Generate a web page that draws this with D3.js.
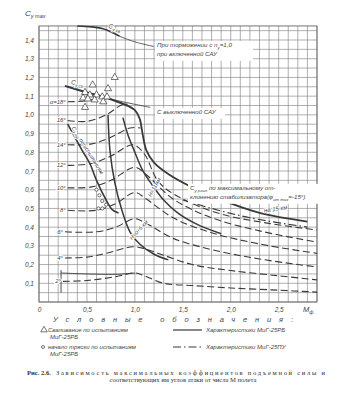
<!DOCTYPE html>
<html><head><meta charset="utf-8">
<script src="https://cdn.jsdelivr.net/npm/d3@7"></script>
<style>
html,body{margin:0;padding:0;background:#fff;}
svg{display:block;}
text{font-family:"Liberation Sans","DejaVu Sans",sans-serif;fill:#444;}
text.serif{font-family:"Liberation Serif","DejaVu Serif",serif;fill:#333;}
</style></head>
<body><svg id="c" width="359" height="400"></svg>
<script>
// ---------- data (M, Cy) ----------
const yTicks = [0.1,0.2,0.3,0.4,0.5,0.6,0.7,0.8,0.9,1.0,1.1,1.2,1.3,1.4];
const xTicks = [0,0.5,1.0,1.5,2.0,2.5];
const alphaNames = ["2°","4°","6°","8°","10°","12°","14°","16°","α=18°"];
const alpha2  = [[0.25,0.11],[0.5,0.115],[0.8,0.135],[1.0,0.155],[1.1,0.14],[1.3,0.10],[1.6,0.088],[2.0,0.075],[2.5,0.063],[2.9,0.053]];
const alpha4  = [[0.27,0.235],[0.5,0.24],[0.7,0.26],[0.98,0.295],[1.1,0.285],[1.3,0.25],[1.6,0.2],[2.0,0.168],[2.5,0.14],[2.9,0.118]];
const alpha6  = [[0.27,0.375],[0.6,0.375],[0.8,0.4],[1.0,0.445],[1.12,0.42],[1.4,0.34],[1.8,0.28],[2.3,0.23],[2.9,0.187]];
const alpha8  = [[0.3,0.49],[0.6,0.49],[0.8,0.525],[1.0,0.585],[1.12,0.55],[1.4,0.45],[1.8,0.37],[2.3,0.31],[2.9,0.26]];
const alpha10 = [[0.3,0.61],[0.55,0.615],[0.75,0.65],[1.0,0.72],[1.12,0.68],[1.4,0.55],[1.8,0.45],[2.3,0.38],[2.9,0.32]];
const alpha12 = [[0.3,0.73],[0.55,0.74],[0.75,0.78],[0.98,0.84],[1.1,0.79],[1.25,0.64],[1.5,0.55],[1.9,0.47],[2.4,0.42],[2.9,0.385]];
const alpha14 = [[0.3,0.84],[0.55,0.845],[0.75,0.88],[0.95,0.93],[1.06,0.93]];
const alpha16 = [[0.3,0.97],[0.5,0.965],[0.7,1.0],[0.85,1.05],[0.92,1.06]];
const alpha18 = [[0.3,1.07],[0.5,1.075],[0.62,1.09]];
const alpha2Solid = [[0.23,0.155],[0.5,0.15],[0.8,0.148],[1.0,0.155]];
const minSpeedLine = [[0.23,0.05],[0.23,0.17]];
const cySvOn      = [[0.4,1.475],[0.55,1.47],[0.67,1.46],[0.84,1.42]];
const cySvOnThin  = [[0.84,1.42],[1.0,1.39],[1.2,1.365]];
const cySvOff     = [[0.27,1.155],[0.5,1.12],[0.71,1.09],[0.92,1.05]];
const cySvOffThin = [[0.29,1.15],[0.7,1.09],[1.16,1.04]];
const limit15     = [[0.9,1.055],[1.0,1.025],[1.05,0.98],[1.08,0.9],[1.12,0.81],[1.2,0.745],[1.36,0.68],[1.57,0.62],[1.85,0.556],[2.3,0.476],[2.8,0.43]];
const limit15PU   = [[1.5,0.545],[1.8,0.5],[2.2,0.45],[2.8,0.40]];
const limit11     = [[0.875,0.985],[0.93,0.89],[1.0,0.80],[1.08,0.705],[1.18,0.626],[1.3,0.545],[1.45,0.475],[1.65,0.415],[1.9,0.365]];
const limit05     = [[0.72,1.0],[0.74,0.81],[0.79,0.64],[0.865,0.49],[0.95,0.374],[1.05,0.31],[1.2,0.255],[1.35,0.225]];
const buffetLine  = [[0.30,0.95],[0.45,0.81],[0.53,0.74],[0.60,0.65],[0.70,0.545],[0.76,0.495],[0.83,0.475]];
const stallTests  = [[0.79,1.2],[0.56,1.16],[0.72,1.14],[0.48,1.12],[0.53,1.107],[0.6,1.107],[0.66,1.096],[0.71,1.096],[0.46,1.09],[0.51,1.085],[0.58,1.08],[0.67,1.07],[0.48,1.04]];
const buffetTests = [[0.6,0.6],[0.63,0.57],[0.66,0.54],[0.62,0.5],[0.66,0.5],[0.7,0.52]];

// ---------- layout ----------
const svg = d3.select("#c");
const x = d3.scaleLinear().domain([0,2.9]).range([39,317]);
const y = d3.scaleLinear().domain([0,1.4]).range([302,40]);
const yTop = 1.475;
const ink = "#3a3a3a";

// grid
const gGrid = svg.append("g");
gGrid.selectAll("line.v").data(d3.range(0,30).map(i=>i/10)).join("line")
  .attr("x1",d=>x(d)).attr("x2",d=>x(d)).attr("y1",y(0)).attr("y2",y(yTop))
  .attr("stroke","#8c8c8c").attr("stroke-width",0.7);
gGrid.selectAll("line.h").data(d3.range(0,30).map(i=>i*0.05)).join("line")
  .attr("x1",x(0)).attr("x2",x(2.9)).attr("y1",d=>y(d)).attr("y2",d=>y(d))
  .attr("stroke","#8c8c8c").attr("stroke-width",0.7);
svg.append("rect").attr("x",x(0)).attr("y",y(yTop)).attr("width",x(2.9)-x(0)).attr("height",y(0)-y(yTop))
  .attr("fill","none").attr("stroke","#666").attr("stroke-width",0.9);

// axes labels
const fmt = d => d===0 ? "0" : d3.format(".1f")(d).replace(".",",");
const ax = d3.axisLeft(y).tickValues(yTicks).tickSize(0).tickPadding(5).tickFormat(fmt);
const gy = svg.append("g").attr("transform",`translate(${x(0)},0)`).call(ax);
gy.select(".domain").remove();
gy.selectAll("text").attr("font-size",6.5).attr("font-style","italic").attr("fill","#555");
const bx = d3.axisBottom(x).tickValues(xTicks).tickSize(0).tickPadding(5).tickFormat(fmt);
const gx = svg.append("g").attr("transform",`translate(0,${y(0)})`).call(bx);
gx.select(".domain").remove();
gx.selectAll("text").attr("font-size",6.5).attr("font-style","italic").attr("fill","#555");

// axis titles
const t1 = svg.append("text").attr("x",25).attr("y",16).attr("font-size",8).attr("font-style","italic");
t1.append("tspan").text("C");
t1.append("tspan").attr("dy",2).attr("font-size",5.5).text("y max");
const t2 = svg.append("text").attr("x",303).attr("y",312).attr("font-size",7.5).attr("font-style","italic");
t2.append("tspan").text("M");
t2.append("tspan").attr("dy",1.5).attr("font-size",5).text("ф");

// ---------- curves ----------
const line = d3.line().x(d=>x(d[0])).y(d=>y(d[1])).curve(d3.curveCatmullRom.alpha(0.5));
function draw(data, w, dash, col){
  svg.append("path").datum(data).attr("d",line).attr("fill","none")
    .attr("stroke",col||ink).attr("stroke-width",w).attr("stroke-dasharray",dash||null)
    .attr("stroke-linecap","butt");
}
const alphas = [alpha2,alpha4,alpha6,alpha8,alpha10,alpha12,alpha14,alpha16,alpha18];
alphas.forEach(a=>draw(a,1.1,"7,3.5"));
draw(alpha2Solid,0.9);
draw(minSpeedLine,0.9);
draw(cySvOn,1.6);
draw(cySvOnThin,0.8);
draw(cySvOff,2.0);
draw(cySvOffThin,0.8);
draw(limit15,1.8);
draw(limit15PU,1.2,"8,3,1.5,3");
draw(limit11,1.5);
draw(limit05,1.5);
draw(buffetLine,1.6);

// test points
svg.selectAll("path.tri").data(stallTests).join("path")
  .attr("d",d3.symbol(d3.symbolTriangle,22)).attr("transform",d=>`translate(${x(d[0])},${y(d[1])})`)
  .attr("fill","#fff").attr("stroke",ink).attr("stroke-width",0.7);
svg.selectAll("circle.bt").data(buffetTests).join("circle")
  .attr("cx",d=>x(d[0])).attr("cy",d=>y(d[1])).attr("r",1.6)
  .attr("fill","#fff").attr("stroke",ink).attr("stroke-width",0.7);

// alpha labels at curve starts
const lbl = svg.append("g").attr("font-size",6).attr("font-style","italic");
alphas.forEach((a,i)=>{
  lbl.append("text").attr("x",x(a[0][0])-2).attr("y",y(a[0][1])+2)
    .attr("text-anchor","end").attr("paint-order","stroke").attr("stroke","#fff").attr("stroke-width",2)
    .text(alphaNames[i]);
});

// annotation text with white boxes
function boxText(lines, x0, y0, lh, fs, w){
  svg.append("rect").attr("x",x0-2).attr("y",y0-fs).attr("width",w).attr("height",lh*lines.length+2).attr("fill","#fff");
  lines.forEach((s,i)=>{
    const t = svg.append("text").attr("x",x0).attr("y",y0+i*lh).attr("font-size",fs).attr("font-style","italic");
    s.forEach(p=>{ const ts=t.append("tspan").text(p.t); if(p.sub) ts.attr("font-size",fs*0.7).attr("dy",1.5); if(p.up) ts.attr("dy",-1.5); });
  });
}
boxText([[{t:"При торможении с n"},{t:"y",sub:1},{t:"=1,0",up:1}],[{t:"при включенной САУ"}]], 157, 47, 9, 6.2, 98);
boxText([[{t:"С выключенной САУ"}]], 157, 114, 9, 6.2, 70);
boxText([[{t:"C"},{t:"y расп",sub:1},{t:" по максимальному от-",up:1}],[{t:"клонению стабилизатора(φ"},{t:"ст max",sub:1},{t:"=-15°)",up:1}]], 190, 190, 9, 6.2, 130);

function rotText(mx, cy, ang, fs){
  return svg.append("text").attr("transform",`translate(${x(mx)},${y(cy)}) rotate(${ang})`)
    .attr("font-size",fs).attr("font-style","italic").attr("paint-order","stroke").attr("stroke","#fff").attr("stroke-width",1.5);
}
let r;
r = rotText(0.72,1.465,17,6.5); r.append("tspan").text("C"); r.append("tspan").attr("font-size",4.5).attr("dy",1.5).text("y св");
r = rotText(0.33,1.165,12,6.5); r.append("tspan").text("C"); r.append("tspan").attr("font-size",4.5).attr("dy",1.5).text("y св");
r = rotText(0.34,0.93,58,5.5); r.append("tspan").text("C"); r.append("tspan").attr("font-size",4).attr("dy",1.5).text("y тр"); r.append("tspan").attr("dy",-1.5).text(" по испытаниям");
rotText(1.17,0.56,-62,5.5).text("H=11 км");
rotText(0.97,0.33,-48,5.5).text("H=0÷5 км");
rotText(2.35,0.478,-8,6).text("на 15 км");

// legend
const lg = svg.append("g").attr("font-style","italic").attr("font-size",6);
lg.append("text").attr("x",53).attr("y",322).attr("font-size",7.5).attr("textLength",240).attr("lengthAdjust","spacing").text("Условные обозначения:");
lg.append("path").attr("d",d3.symbol(d3.symbolTriangle,18)).attr("transform","translate(44,330)").attr("fill","#fff").attr("stroke",ink).attr("stroke-width",0.7);
lg.append("text").attr("x",48).attr("y",332).text("Сваливание по испытаниям");
lg.append("text").attr("x",50).attr("y",339).text("МиГ-25РБ");
lg.append("circle").attr("cx",43).attr("cy",347).attr("r",1.5).attr("fill","#fff").attr("stroke",ink).attr("stroke-width",0.7);
lg.append("text").attr("x",48).attr("y",349).text("начало тряски по испытаниям");
lg.append("text").attr("x",50).attr("y",356).text("МиГ-25РБ");
lg.append("line").attr("x1",173).attr("x2",202).attr("y1",330).attr("y2",330).attr("stroke",ink).attr("stroke-width",1.2);
lg.append("text").attr("x",206).attr("y",332).text("Характеристики МиГ-25РБ");
lg.append("line").attr("x1",173).attr("x2",202).attr("y1",347).attr("y2",347).attr("stroke",ink).attr("stroke-width",1.2).attr("stroke-dasharray","8,3,1.5,3");
lg.append("text").attr("x",206).attr("y",349).text("Характеристики МиГ-25ПУ");

// caption
const cap = svg.append("g").attr("font-size",6.6);
cap.append("text").attr("class","serif").attr("x",27).attr("y",375).attr("font-weight","bold").text("Рис. 2.6.");
cap.append("text").attr("class","serif").attr("x",56).attr("y",375).attr("textLength",269).attr("lengthAdjust","spacing").text("Зависимость максимальных коэффициентов подъемной силы и");
cap.append("text").attr("class","serif").attr("x",183).attr("y",382).attr("text-anchor","middle").text("соответствующих им углов атаки от числа М полета");
</script></body></html>
